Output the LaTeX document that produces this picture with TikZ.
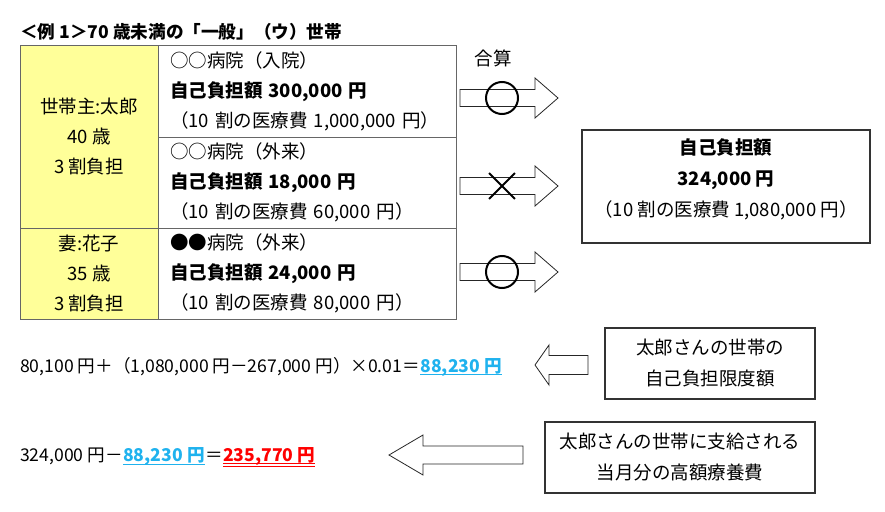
\documentclass[tikz,border=0pt]{standalone}
\usepackage{fontspec}
\usepackage{tikz}
\usetikzlibrary{shapes.misc}
\setmainfont{Noto Sans CJK JP}

\definecolor{cellyellow}{HTML}{FFFF99}
\definecolor{skyblue}{HTML}{1FB2EE}
\definecolor{sumred}{HTML}{FF0000}

\begin{document}
\begin{tikzpicture}[x=1pt, y=-1pt,
    every node/.style = {inner sep=0pt, font=\fontsize{18.5}{30}\selectfont},
    namecell/.style = {draw=black!60, line width=1pt, fill=cellyellow, minimum width=138, align=center},
    billcell/.style = {draw=black!60, line width=1pt, minimum width=298, minimum height=91, text width=274, align=left},
    sumbox/.style = {draw=black!80, line width=1.2pt, align=center},
    boxtext/.style = {align=center, font=\fontsize{18.5}{31}\selectfont},
    blockarrow/.style = {draw=black!85, line width=0.8pt, fill=white, line join=miter},
    merge/.style = {draw, circle, line width=2pt, minimum size=32},
    nomerge/.style = {draw, cross out, line width=1.8pt, minimum size=24},
    formula/.style = {anchor=base west, font=\fontsize{17.6}{20}\selectfont},
    amount/.style = {anchor=base west, font=\fontsize{17.6}{20}\selectfont\bfseries}]
\useasboundingbox (0,0) rectangle (885,511);

% title
\node[anchor=base west, font=\fontsize{17.6}{22}\selectfont\bfseries] (title) at (20,38) {＜例 1＞70 歳未満の「一般」（ウ）世帯};

% table
\node[namecell, minimum height=182] (taro) at (89,137) {世帯主:太郎\\40 歳\\3 割負担};
\node[namecell, minimum height=91] (hanako) at (89,273.5) {妻:花子\\35 歳\\3 割負担};
\node[billcell] (nyuin) at (307,91.5) {○○病院（入院）\\\textbf{自己負担額 300,000 円}\\（10 割の医療費 1,000,000 円）};
\node[billcell] (gairai) at (307,182.5) {○○病院（外来）\\\textbf{自己負担額 18,000 円}\\（10 割の医療費 60,000 円）};
\node[billcell] (tsuma) at (307,273.5) {●●病院（外来）\\\textbf{自己負担額 24,000 円}\\（10 割の医療費 80,000 円）};

% arrows to the total
\node (gassan) at (493,58) {合算};
\foreach \y in {98,186,272}
  \draw[blockarrow] (460,\y) ++(0,-8.5) -- ++(75,0) -- ++(0,-11.5) -- ++(23,20) -- ++(-23,20) -- ++(0,-11.5) -- ++(-75,0) -- cycle;
\node[merge] (m1) at (502,98) {};
\node[nomerge] (m2) at (502,186) {};
\node[merge] (m3) at (502,272) {};

% total
\node[sumbox, minimum width=288, minimum height=113] (total) at (726,186.5) {};
\node[boxtext] (totaltext) at (726,179) {\textbf{自己負担額}\\\textbf{324,000 円}\\（10 割の医療費 1,080,000 円）};

% limit
\node[sumbox, boxtext, minimum width=210, minimum height=71] (limit) at (710,363.5) {太郎さんの世帯の\\自己負担限度額};
\draw[blockarrow] (535,365) -- (549,345) -- (549,355.5) -- (588,355.5) -- (588,374.5) -- (549,374.5) -- (549,385) -- cycle;
\node[formula] (f1) at (20,372) {80,100 円＋（1,080,000 円－267,000 円）×0.01＝};
\node[amount, text=skyblue] (f1res) at (f1.base east) {88,230 円};
\draw[skyblue, line width=1.3pt] ([yshift=-2.5]f1res.base west) -- ([yshift=-2.5]f1res.base east);

% refund
\node[sumbox, boxtext, minimum width=270, minimum height=71] (refund) at (680,457.5) {太郎さんの世帯に支給される\\当月分の高額療養費};
\draw[blockarrow] (389,455) -- (423,435) -- (423,446) -- (523,446) -- (523,464) -- (423,464) -- (423,475) -- cycle;
\node[formula] (f2) at (20,461) {324,000 円－};
\node[amount, text=skyblue] (f2lim) at (f2.base east) {88,230 円};
\node[formula] (f2eq) at (f2lim.base east) {＝};
\node[amount, text=sumred] (f2res) at (f2eq.base east) {235,770 円};
\draw[skyblue, line width=1.3pt] ([yshift=-3.5]f2lim.base west) -- ([yshift=-3.5]f2lim.base east);
\draw[sumred, line width=0.8pt] ([yshift=-2]f2res.base west) -- ([yshift=-2]f2res.base east);
\draw[sumred, line width=0.8pt] ([yshift=-5]f2res.base west) -- ([yshift=-5]f2res.base east);
\end{tikzpicture}
\end{document}
